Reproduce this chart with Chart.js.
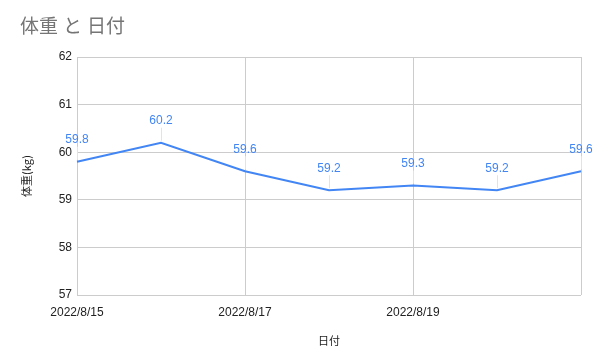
<!DOCTYPE html>
<html>
<head>
<meta charset="utf-8">
<script src="https://cdn.jsdelivr.net/npm/chart.js@4"></script>
<style>
  html, body { margin: 0; padding: 0; background: #fff; }
  #wrap { width: 600px; height: 360px; }
</style>
</head>
<body>
<div id="wrap"><canvas id="weightChart" width="600" height="360"></canvas></div>
<script>
const dates = ['2022/8/15', '2022/8/16', '2022/8/17', '2022/8/18', '2022/8/19', '2022/8/20', '2022/8/21'];
const weights = [59.8, 60.2, 59.6, 59.2, 59.3, 59.2, 59.6];
const yMin = 57;
const yMax = 62;

const lineColor = '#4285f4';
const gridColor = '#cccccc';

// title drawn by hand so it sits at the top left like the original
const titlePlugin = {
    id: 'sheetTitle',
    afterDraw(chart) {
        const ctx = chart.ctx;
        ctx.save();
        ctx.font = '19px "Noto Sans CJK JP", sans-serif';
        ctx.fillStyle = '#757575';
        ctx.textAlign = 'left';
        ctx.textBaseline = 'middle';
        // the spaces in the original are wide, so place the words one by one
        ctx.fillText('体重', 20, 26);
        ctx.fillText('と', 63, 26);
        ctx.fillText('日付', 87, 26);
        ctx.restore();
    }
};

// value labels above each point, with a thin leader line
const valueLabels = {
    id: 'valueLabels',
    afterDatasetsDraw(chart) {
        const ctx = chart.ctx;
        const meta = chart.getDatasetMeta(0);
        ctx.save();
        meta.data.forEach((pt, i) => {
            ctx.strokeStyle = '#e3e3e3';
            ctx.lineWidth = 1;
            ctx.beginPath();
            ctx.moveTo(Math.round(pt.x) + 0.5, pt.y - 15);
            ctx.lineTo(Math.round(pt.x) + 0.5, pt.y - 2);
            ctx.stroke();
            ctx.font = '12px "Liberation Sans", Arial, sans-serif';
            ctx.fillStyle = lineColor;
            ctx.textAlign = 'center';
            ctx.textBaseline = 'middle';
            ctx.fillText(weights[i].toFixed(1), pt.x, pt.y - 22);
        });
        ctx.restore();
    }
};

new Chart(document.getElementById('weightChart'), {
    type: 'line',
    data: {
        labels: dates,
        datasets: [{
            data: weights,
            borderColor: lineColor,
            borderWidth: 2,
            pointRadius: 0,
            tension: 0,
            fill: false
        }]
    },
    options: {
        responsive: false,
        animation: false,
        layout: { padding: { left: 0, right: 19, top: 57, bottom: 0 } },
        plugins: {
            legend: { display: false },
            title: { display: false },
            tooltip: { enabled: false }
        },
        scales: {
            x: {
                offset: false,
                grid: {
                    drawTicks: false,
                    color: ctx => (ctx.index % 2 === 0 ? gridColor : 'rgba(0,0,0,0)')
                },
                border: { display: false },
                ticks: {
                    autoSkip: false,
                    maxRotation: 0,
                    padding: 10,
                    color: '#222',
                    font: { family: '"Liberation Sans", Arial, sans-serif', size: 12 },
                    callback: function (value, index) {
                        return (index % 2 === 0 && index < dates.length - 1) ? dates[index] : '';
                    }
                },
                title: {
                    display: true,
                    text: '日付',
                    color: '#222',
                    padding: { top: 0, bottom: 13 },
                    font: { family: '"Noto Sans CJK JP", sans-serif', size: 11 }
                },
                afterFit(scale) { scale.height = 65; }
            },
            y: {
                min: yMin,
                max: yMax,
                grid: { drawTicks: false, color: gridColor },
                border: { display: false },
                ticks: {
                    stepSize: 1,
                    padding: 5,
                    color: '#222',
                    font: { family: '"Liberation Sans", Arial, sans-serif', size: 12 }
                },
                title: {
                    display: true,
                    text: '体重(kg)',
                    color: '#222',
                    padding: { top: 20, bottom: 0 },
                    font: { family: '"Noto Sans CJK JP", sans-serif', size: 11 }
                },
                afterFit(scale) { scale.width = 77; }
            }
        }
    },
    plugins: [titlePlugin, valueLabels]
});
</script>
</body>
</html>
